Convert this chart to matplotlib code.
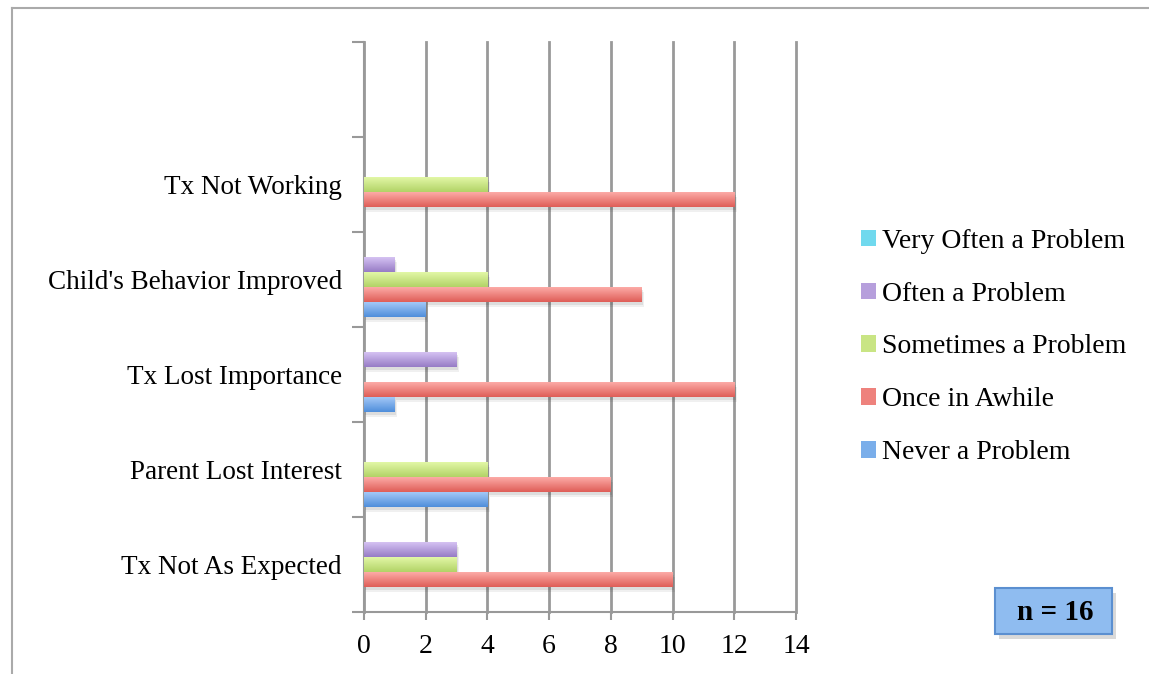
import matplotlib.pyplot as plt
import numpy as np
from matplotlib.patches import Rectangle
from matplotlib.lines import Line2D
from matplotlib.colors import LinearSegmentedColormap

categories = ["Tx Not As Expected", "Parent Lost Interest", "Tx Lost Importance",
              "Child's Behavior Improved", "Tx Not Working", ""]
series = ["Never a Problem", "Once in Awhile", "Sometimes a Problem",
          "Often a Problem", "Very Often a Problem"]
never = [0, 4, 1, 2, 0, 0]
once = [10, 8, 12, 9, 12, 0]
sometimes = [3, 4, 0, 4, 4, 0]
often = [3, 0, 3, 1, 0, 0]
very_often = [0, 0, 0, 0, 0, 0]
values = [never, once, sometimes, often, very_often]

# top / bottom colours of the gradient for each series
colors = [("#a3c8f7", "#4f8edb"), ("#fcaba7", "#df5d57"), ("#e2f7a6", "#b2d367"),
          ("#d5c2f2", "#977cc6"), ("#a3f1fb", "#40c2df")]
legend_colors = ["#7aaeea", "#ee827d", "#c9e584", "#b69fdc", "#70d9ee"]

plt.rcParams['font.family'] = ['Liberation Serif', 'DejaVu Serif']

fig = plt.figure(figsize=(11.49, 6.74), dpi=100)
ax = fig.add_axes([364/1149, 1-612/674, 432/1149, 570/674])

h = 15/95
y = np.arange(len(categories)) + 0.5
grad = np.linspace(0, 1, 50).reshape(-1, 1)
for i, (vals, (c1, c2)) in enumerate(zip(values, colors)):
    cmap = LinearSegmentedColormap.from_list("g", [c1, c2])
    ypos = y + (i - 2) * h
    for yy, v in zip(ypos, vals):
        if v <= 0:
            continue
        # soft shadow
        for k, a in [(0.05, 0.06), (0.03, 0.08)]:
            ax.add_patch(Rectangle((k, yy - h/2 - k), v + k/2, h, color="#000000",
                                   alpha=a, lw=0, zorder=2))
        r = Rectangle((0, yy - h/2), v, h, facecolor=c2, lw=0, zorder=3)
        ax.add_patch(r)
        im = ax.imshow(grad, extent=(0, v, yy - h/2, yy + h/2), cmap=cmap,
                       aspect='auto', zorder=3.5, interpolation='bilinear',
                       origin='upper')
        im.set_clip_path(r)
    ax.bar(0, 0, color=legend_colors[i], label=series[i])

ax.set_xlim(0, 14)
ax.set_ylim(0, 6)
ax.set_xticks(range(0, 15, 2))
ax.set_yticks(range(0, 7))
ax.set_yticklabels([])
ax.set_yticks(y, categories, minor=True)
ax.tick_params(axis='y', which='minor', length=0, pad=16, labelsize=19.5)
ax.tick_params(axis='y', which='major', length=9, width=1.5, color="#999999")
ax.tick_params(axis='x', length=6, width=1.5, color="#999999", labelsize=20, pad=10)
ax.grid(axis='x', color="#999999", lw=2, zorder=1)
for gl in ax.get_xgridlines():
    gl.set_clip_on(False)
ax.set_axisbelow(True)
for s in ["top", "right"]:
    ax.spines[s].set_visible(False)
for s in ["left", "bottom"]:
    ax.spines[s].set_color("#999999")
    ax.spines[s].set_linewidth(1.5)

handles, labels = ax.get_legend_handles_labels()
leg = fig.legend(handles[::-1], labels[::-1], loc="center left",
                 bbox_to_anchor=(836/1149, 1-347/674), frameon=False, fontsize=20,
                 handlelength=0.55, handleheight=0.55, handletextpad=0.2, labelspacing=1.0)

# n box
fig.patches.append(Rectangle((999/1149, 1-639/674), 117/1149, 46/674, transform=fig.transFigure,
                             facecolor="#000000", alpha=0.15, lw=0))
fig.patches.append(Rectangle((995/1149, 1-634/674), 117/1149, 46/674, transform=fig.transFigure,
                             facecolor="#8fbcf0", edgecolor="#5b8fd0", lw=1.5))
fig.text(1055/1149, 1-612/674, "n = 16", ha="center", va="center", fontsize=21, fontweight="bold")

# outer frame
fig.add_artist(Line2D([12/1149, 1], [1-8/674, 1-8/674], color="#aaaaaa", lw=1.5))
fig.add_artist(Line2D([12/1149, 12/1149], [0, 1-8/674], color="#aaaaaa", lw=1.5))

fig.savefig("out.png", dpi=100)
